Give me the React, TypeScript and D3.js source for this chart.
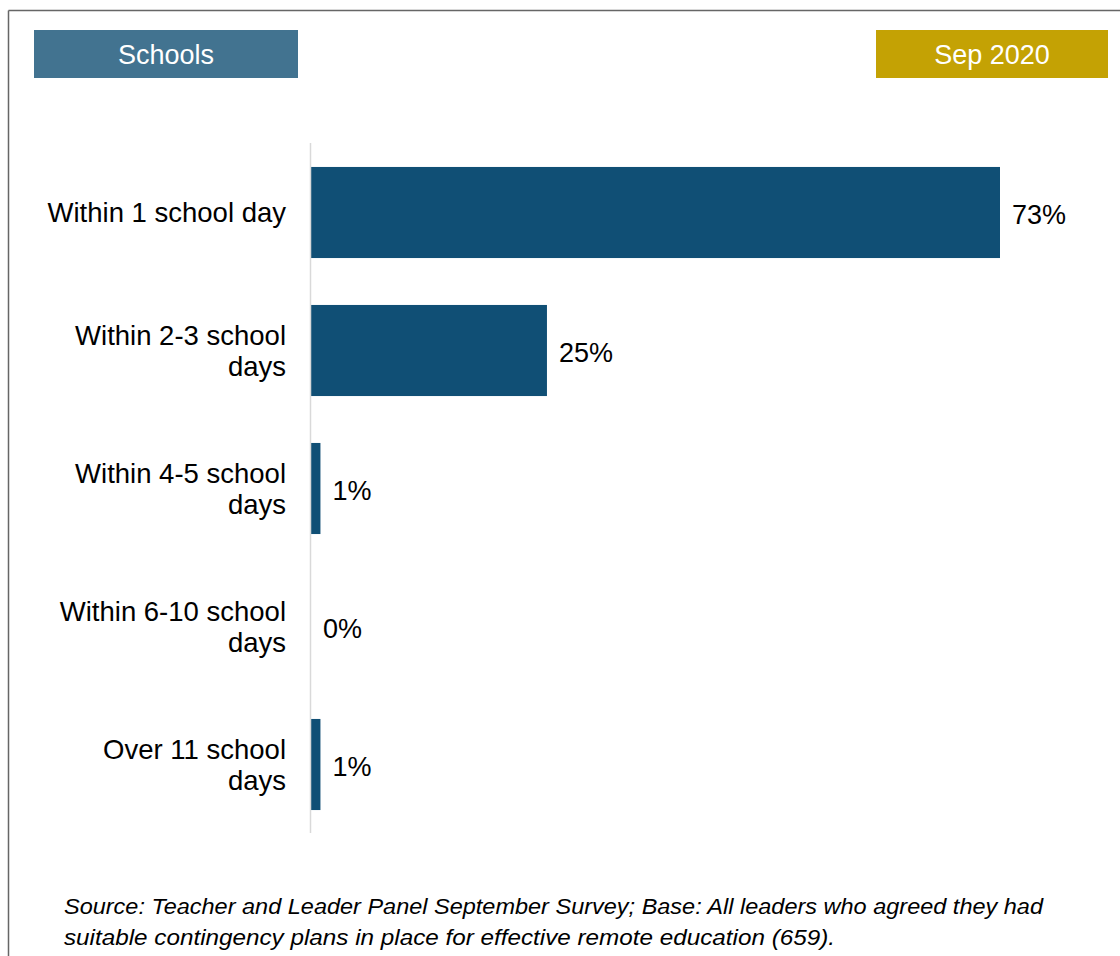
import React from "react";
import * as d3 from "d3";

const categories: string[][] = [
  ["Within 1 school day"],
  ["Within 2-3 school", "days"],
  ["Within 4-5 school", "days"],
  ["Within 6-10 school", "days"],
  ["Over 11 school", "days"],
];
const values: number[] = [73, 25, 1, 0, 1];
const valueLabels: string[] = ["73%", "25%", "1%", "0%", "1%"];
const headerLeft = "Schools";
const headerRight = "Sep 2020";
const footnoteLines: string[] = [
  "Source: Teacher and Leader Panel September Survey; Base: All leaders who agreed they had",
  "suitable contingency plans in place for effective remote education (659).",
];

const W = 1120;
const H = 956;
const FONT = "'Liberation Sans', Arial, Helvetica, sans-serif";

export default function App() {
  const ids = categories.map((_, i) => String(i));
  const y = d3.scaleBand<string>().domain(ids).range([143.5, 833.5]).paddingInner(0.34).paddingOuter(0.17);
  const x = d3.scaleLinear().domain([0, 73]).range([311, 1000]);

  return (
    <div style={{ position: "absolute", left: 0, top: 0 }}>
      <svg width={W} height={H} style={{ display: "block", fontFamily: FONT }}>
        <rect x={0} y={0} width={W} height={H} fill="#fff" />
        {/* frame */}
        <line x1={8.5} y1={10.5} x2={W} y2={10.5} stroke="#666" strokeWidth={1.5} />
        <line x1={8.5} y1={10.5} x2={8.5} y2={H} stroke="#666" strokeWidth={1.5} />

        {/* headers */}
        <rect x={34} y={30} width={264} height={48} fill="#427390" />
        <text x={166} y={55} dy="0.35em" textAnchor="middle" fill="#fff" fontSize={27}>
          {headerLeft}
        </text>
        <rect x={876} y={30} width={232} height={48} fill="#c4a204" />
        <text x={992} y={55} dy="0.35em" textAnchor="middle" fill="#fff" fontSize={27}>
          {headerRight}
        </text>

        {/* bars */}
        {values.map((v, i) => (
          <rect
            key={"b" + i}
            x={x(0)}
            y={y(ids[i])}
            width={Math.max(0, x(v) - x(0))}
            height={y.bandwidth()}
            fill="#104f75"
          />
        ))}

        {/* axis line */}
        <line x1={310.5} y1={143} x2={310.5} y2={833} stroke="#d9d9d9" strokeWidth={1.5} />

        {/* value labels */}
        {values.map((v, i) => (
          <text
            key={"v" + i}
            x={x(v) + 12}
            y={(y(ids[i]) as number) + y.bandwidth() / 2 + 2}
            dy="0.35em"
            fontSize={27}
            fill="#000"
          >
            {valueLabels[i]}
          </text>
        ))}

        {/* category labels */}
        {categories.map((lines, i) => {
          const cy = (y(ids[i]) as number) + y.bandwidth() / 2;
          const lh = 31;
          const start = cy - ((lines.length - 1) * lh) / 2;
          return (
            <text key={"c" + i} textAnchor="end" fontSize={27.5} fill="#000">
              {lines.map((l, j) => (
                <tspan key={j} x={286} y={start + j * lh} dy="0.35em">
                  {l}
                </tspan>
              ))}
            </text>
          );
        })}

        {/* footnote */}
        <text fontSize={22} fontStyle="italic" fill="#000">
          <tspan x={64} y={906} dy="0.35em" textLength={979} lengthAdjust="spacingAndGlyphs">
            {footnoteLines[0]}
          </tspan>
        </text>
        <text fontSize={22} fontStyle="italic" fill="#000">
          <tspan x={64} y={937} dy="0.35em" textLength={771} lengthAdjust="spacingAndGlyphs">
            {footnoteLines[1]}
          </tspan>
        </text>
      </svg>
    </div>
  );
}
